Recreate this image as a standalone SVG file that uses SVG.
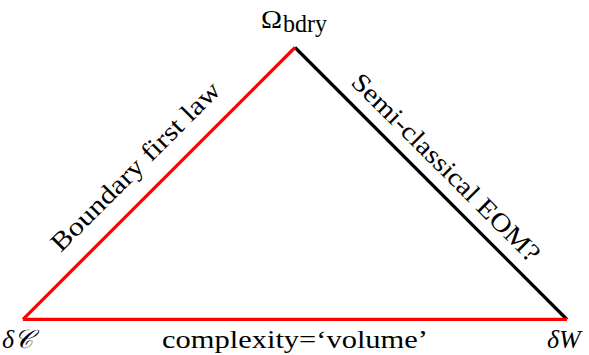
<svg xmlns="http://www.w3.org/2000/svg" width="589" height="355" viewBox="0 0 589 355">
<style>
.t{font-family:"Liberation Serif","DejaVu Serif",serif;fill:#000;font-size:26px}
.i{font-style:italic}
.e{fill:none;stroke-width:3.2;stroke-linecap:butt}
.red{stroke:#ff0000}
.blk{stroke:#000}
</style>
<rect width="589" height="355" fill="#fff"/>
<g id="connectors">
<line class="e blk" x1="295" y1="47.5" x2="567" y2="319.5"/>
<line class="e red" x1="23" y1="319.3" x2="567" y2="319.3"/>
<line class="e red" x1="23" y1="319.3" x2="295" y2="47.5"/>
<text class="t" text-anchor="middle" transform="translate(141.4,172.4) rotate(-45)" textLength="228" lengthAdjust="spacingAndGlyphs">Boundary first law</text>
<text class="t" text-anchor="middle" transform="translate(439.9,173.6) rotate(45)" textLength="255" lengthAdjust="spacingAndGlyphs">Semi-classical EOM?</text>
<text class="t" x="295" y="348" text-anchor="middle" textLength="266" lengthAdjust="spacingAndGlyphs">complexity=‘volume’</text>
</g>
<g id="node-omega">
<text class="t" x="261" y="28" font-size="30" textLength="21" lengthAdjust="spacingAndGlyphs">Ω</text>
<text class="t" x="283" y="32" font-size="19" textLength="44" lengthAdjust="spacingAndGlyphs">bdry</text>
</g>
<g id="node-dC">
<text class="t i" x="2" y="348" font-size="27">δ𝒞</text>
</g>
<g id="node-dW">
<text class="t i" x="547" y="348" font-size="29">δW</text>
</g>
</svg>
